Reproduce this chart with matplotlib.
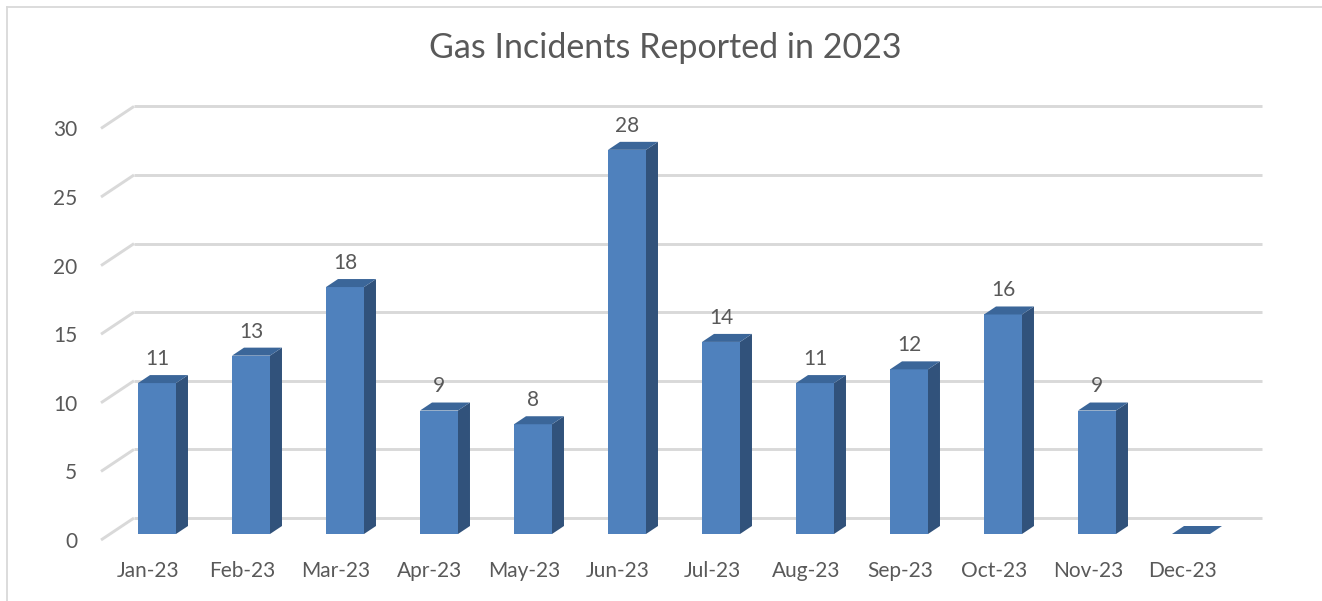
import numpy as np
import matplotlib
matplotlib.use('Agg')
import matplotlib.pyplot as plt
from matplotlib.patches import Polygon
from matplotlib.lines import Line2D

# chart data
months = ['Jan-23', 'Feb-23', 'Mar-23', 'Apr-23', 'May-23', 'Jun-23',
          'Jul-23', 'Aug-23', 'Sep-23', 'Oct-23', 'Nov-23', 'Dec-23']
incidents = [11, 13, 18, 9, 8, 28, 14, 11, 12, 16, 9, 0]
y_ticks = [0, 5, 10, 15, 20, 25, 30]
title = 'Gas Incidents Reported in 2023'

plt.rcParams['font.family'] = ['Lato', 'DejaVu Sans']
TEXT = '#595959'
GRID = '#d9d9d9'
FRONT = '#4f81bd'
SIDE = '#31527b'
TOP = '#3b6699'

W, H = 1322, 601
fig = plt.figure(figsize=(W / 100, H / 100), dpi=100)
fig.patch.set_facecolor('white')

# plot area (front edge of the floor), in pixels
left_px, right_px, base_px, top_px = 101, 1229, 540, 128.4
ax = fig.add_axes([left_px / W, (H - base_px) / H,
                   (right_px - left_px) / W, (base_px - top_px) / H])
ax.set_xlim(-0.5, len(months) - 0.5)
ax.set_ylim(y_ticks[0], y_ticks[-1])
for s in ax.spines.values():
    s.set_visible(False)
ax.patch.set_alpha(0)

# fake 3d: depth d shifts a point right 1.5*d px and up d px
SLOPE = 1.5
D_WALL, D_BAR_FRONT, D_BAR_BACK = 22, 6, 14
inv = ax.transData.inverted()


def to3d(x, y, d):
    px, py = ax.transData.transform((x, y))
    return inv.transform((px + SLOPE * d, py + d))


# back wall gridlines and left wall diagonals
x0, x1 = ax.get_xlim()
for v in y_ticks:
    a, b = to3d(x0, v, D_WALL), to3d(x1, v, D_WALL)
    ax.plot([a[0], b[0]], [a[1], b[1]], color=GRID, lw=2.1,
            clip_on=False, zorder=1, solid_capstyle='butt')
    c = to3d(x0, v, 0)
    ax.plot([c[0], a[0]], [c[1], a[1]], color=GRID, lw=2.1,
            clip_on=False, zorder=1, solid_capstyle='butt')

# bars
hw = 0.202
for i, v in enumerate(incidents):
    front = [to3d(i - hw, 0, D_BAR_FRONT), to3d(i + hw, 0, D_BAR_FRONT),
             to3d(i + hw, v, D_BAR_FRONT), to3d(i - hw, v, D_BAR_FRONT)]
    side = [to3d(i + hw, 0, D_BAR_FRONT), to3d(i + hw, 0, D_BAR_BACK),
            to3d(i + hw, v, D_BAR_BACK), to3d(i + hw, v, D_BAR_FRONT)]
    top = [to3d(i - hw, v, D_BAR_FRONT), to3d(i + hw, v, D_BAR_FRONT),
           to3d(i + hw, v, D_BAR_BACK), to3d(i - hw, v, D_BAR_BACK)]
    for pts, col in ((side, SIDE), (front, FRONT), (top, TOP)):
        ax.add_patch(Polygon(pts, closed=True, facecolor=col, edgecolor='none',
                             clip_on=False, zorder=3))
    if v > 0:
        lx, ly = to3d(i, v, D_BAR_FRONT)
        ax.annotate(str(v), (lx, ly), xytext=(0, 13), textcoords='offset points',
                    ha='center', va='baseline', fontsize=15, color=TEXT,
                    annotation_clip=False, zorder=4)

# axis labels
ax.set_yticks(y_ticks)
ax.set_yticklabels([str(t) for t in y_ticks])
ax.set_xticks(range(len(months)))
ax.set_xticklabels(months)
ax.tick_params(axis='y', length=0, pad=17, labelsize=15, labelcolor=TEXT)
ax.tick_params(axis='x', length=0, pad=15, labelsize=15, labelcolor=TEXT)

# title
fig.text(665 / W, 1 - 58 / H, title, ha='center', va='baseline',
         fontsize=24.5, color=TEXT)

# chart border
fig.add_artist(Line2D([6.5 / W, 6.5 / W], [0, 1 - 6.5 / H], color=GRID,
                      lw=1.3, transform=fig.transFigure))
fig.add_artist(Line2D([6.5 / W, 1], [1 - 6.5 / H, 1 - 6.5 / H], color=GRID,
                      lw=1.3, transform=fig.transFigure))

fig.savefig('out.png', dpi=100, facecolor='white')
